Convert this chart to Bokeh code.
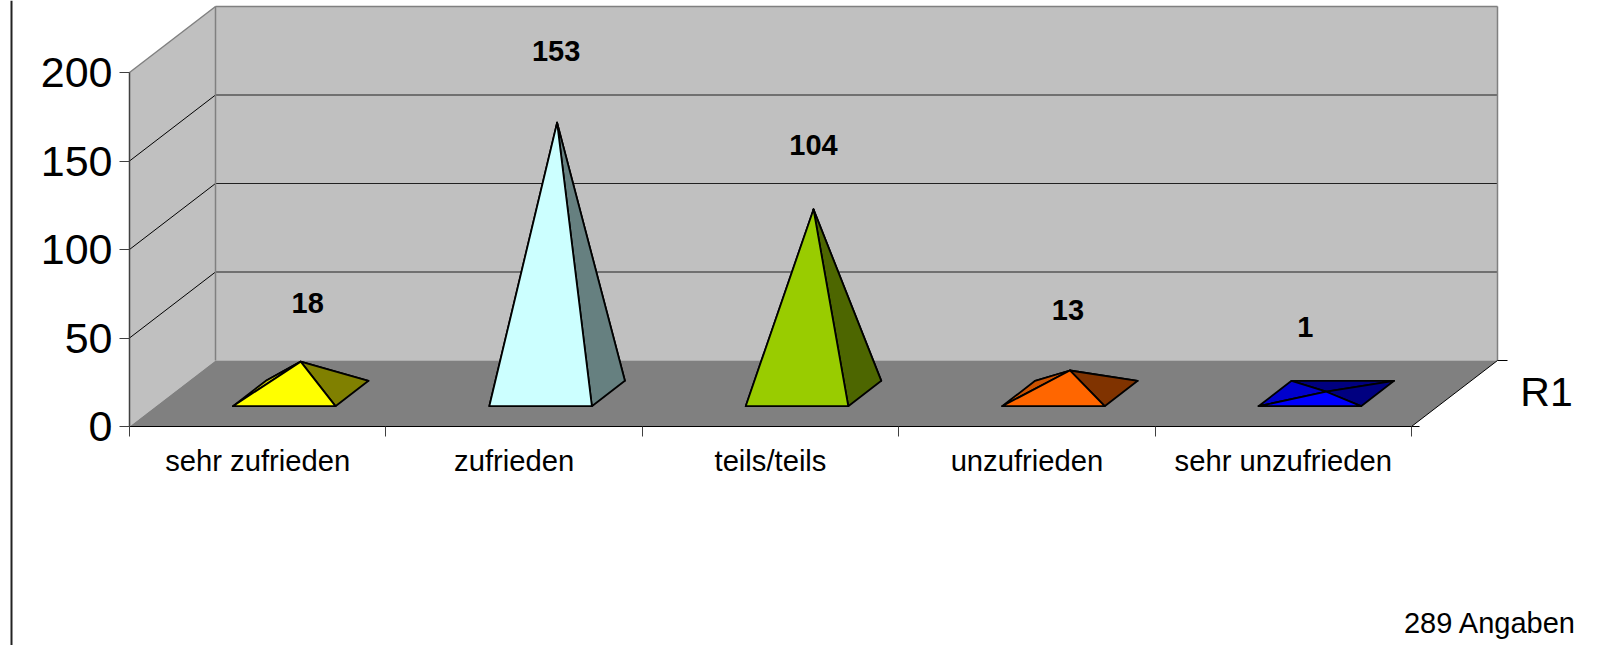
from bokeh.plotting import figure
from bokeh.models import LinearAxis, FixedTicker, Range1d
from bokeh.embed import file_html
from bokeh.resources import INLINE

categories = ["sehr zufrieden", "zufrieden", "teils/teils", "unzufrieden", "sehr unzufrieden"]
values = [18, 153, 104, 13, 1]
value_ticks = [0, 50, 100, 150, 200]
series_name = "R1"
note = "289 Angaben"
front_colors = ["#FFFF00", "#CCFFFF", "#99CC00", "#FF6600", "#0000FF"]
side_colors = ["#808000", "#668080", "#4D6600", "#803300", "#000080"]
left_colors = ["#CCCC00", "#A3CCCC", "#7AA300", "#CC5200", "#0000CC"]
# pixel nudges of the data labels relative to each pyramid's apex
label_dx = [7, -1, 0, -2, -21]
label_lift = [59, 72, 64, 60, 65]

# layout constants (pixels of the photographed page)
X0, PX_PER_CAT, Y0, PX_PER_VAL = 129, 256.4, 426, 1.77
DEPTH_PX_X, DEPTH_PX_Y = 86, 66
W, H = 1608, 645
DX, DY = DEPTH_PX_X / PX_PER_CAT, DEPTH_PX_Y / PX_PER_VAL
N = len(categories)
FONT = "Liberation Sans"


def pr(c, v, d):
    """Oblique projection: category position, value, depth -> plot data coordinates."""
    return c + d * DX, v + d * DY


def sx(px):
    return px / PX_PER_CAT


def sy(px):
    return px / PX_PER_VAL


p = figure(width=W, height=H, output_backend="svg", toolbar_location=None,
           x_range=Range1d(-X0 / PX_PER_CAT, (W - X0) / PX_PER_CAT),
           y_range=Range1d((Y0 - H) / PX_PER_VAL, Y0 / PX_PER_VAL),
           x_axis_type=None, y_axis_type=None, min_border=0,
           outline_line_color=None, background_fill_color="white", border_fill_color="white")
p.grid.visible = False


def poly(pts, fill, line=None, lw=1.0):
    xs, ys = zip(*[pr(*q) for q in pts])
    p.patch(list(xs), list(ys), fill_color=fill, line_color=line, line_width=lw, line_join="round")


def seg(a, b, color, lw=1.0):
    xa, ya = pr(*a)
    xb, yb = pr(*b)
    p.line([xa, xb], [ya, yb], line_color=color, line_width=lw)


top = value_ticks[-1]
# walls and floor
poly([(0, 0, 1), (N, 0, 1), (N, top, 1), (0, top, 1)], "#C0C0C0")
poly([(0, 0, 0), (0, top, 0), (0, top, 1), (0, 0, 1)], "#C0C0C0")
poly([(0, 0, 0), (N, 0, 0), (N, 0, 1), (0, 0, 1)], "#808080")

# grid lines
for v in value_ticks[1:-1]:
    seg((0, v, 0), (0, v, 1), "#000000")
    seg((0, v, 1), (N, v, 1), "#202020")
# wall borders
seg((0, top, 0), (0, top, 1), "#808080", 1.5)
seg((0, top, 1), (N, top, 1), "#808080", 1.5)
seg((0, 0, 1), (0, top, 1), "#808080", 1.5)
seg((N, 0, 1), (N, top, 1), "#808080", 1.5)
seg((N, 0, 0), (N, 0, 1), "#000000")
# depth axis ticks
for d, length in [(0, 8), (1, 10)]:
    xa, ya = pr(N, 0, d)
    p.line([xa, xa + sx(length)], [ya, ya], line_color="#000000", line_width=1)

# pyramids
HALF_W, DEPTH_LO, DEPTH_HI = 0.2, 0.308, 0.692
for i, val in enumerate(values):
    cx = i + 0.5
    fl = (cx - HALF_W, 0, DEPTH_LO)
    fr = (cx + HALF_W, 0, DEPTH_LO)
    br = (cx + HALF_W, 0, DEPTH_HI)
    bl = (cx - HALF_W, 0, DEPTH_HI)
    apex = (cx, val, 0.5)
    kw = dict(line="#000000", lw=1.8)
    poly([bl, br, apex], side_colors[i], **kw)
    poly([fl, bl, apex], left_colors[i], **kw)
    poly([fr, br, apex], side_colors[i], **kw)
    poly([fl, fr, apex], front_colors[i], **kw)
    ax, ay = pr(*apex)
    p.text([ax + sx(label_dx[i])], [ay + sy(label_lift[i])], text=[str(val)],
           text_font_size="29px", text_font_style="bold", text_font={"value": FONT},
           text_align="center", text_baseline="middle", text_color="#000000")

# real axes placed on the front edges of the box
yaxis = LinearAxis(fixed_location=0, ticker=FixedTicker(ticks=value_ticks), bounds=(0, top))
yaxis.axis_line_color = "#404040"
yaxis.axis_line_width = 1.5
yaxis.major_tick_line_color = "#404040"
yaxis.major_tick_out = 10
yaxis.major_tick_in = 0
yaxis.minor_tick_line_color = None
yaxis.major_label_standoff = 7
yaxis.major_label_text_font = FONT
yaxis.major_label_text_font_size = "43px"
yaxis.major_label_text_color = "#000000"
p.add_layout(yaxis, "left")

xaxis = LinearAxis(fixed_location=0, bounds=(0, N),
                   ticker=FixedTicker(ticks=[i + 0.5 for i in range(N)], minor_ticks=list(range(N + 1))))
xaxis.major_label_overrides = {i + 0.5: c for i, c in enumerate(categories)}
xaxis.axis_line_color = "#000000"
xaxis.axis_line_width = 1.2
xaxis.major_tick_line_color = None
xaxis.major_tick_out = 0
xaxis.major_tick_in = 0
xaxis.minor_tick_line_color = "#404040"
xaxis.minor_tick_out = 10
xaxis.minor_tick_in = 0
xaxis.major_label_standoff = 8
xaxis.major_label_text_font = FONT
xaxis.major_label_text_font_size = "29.2px"
xaxis.major_label_text_color = "#000000"
p.add_layout(xaxis, "below")

# series name, note and the frame line at the left
p.text([(1546 - X0) / PX_PER_CAT], [(Y0 - 391) / PX_PER_VAL], text=[series_name], text_font_size="41px",
       text_font={"value": FONT}, text_align="center", text_baseline="middle", text_color="#000000")
p.text([(1576 - X0) / PX_PER_CAT], [(Y0 - 622) / PX_PER_VAL], text=[note], text_font_size="29px",
       text_font={"value": FONT}, text_align="right", text_baseline="middle", text_color="#000000")
lx = (11 - X0) / PX_PER_CAT
p.line([lx, lx], [(Y0 - H) / PX_PER_VAL, Y0 / PX_PER_VAL], line_color="#222222", line_width=2)

open("out.html", "w").write(file_html(p, INLINE))
